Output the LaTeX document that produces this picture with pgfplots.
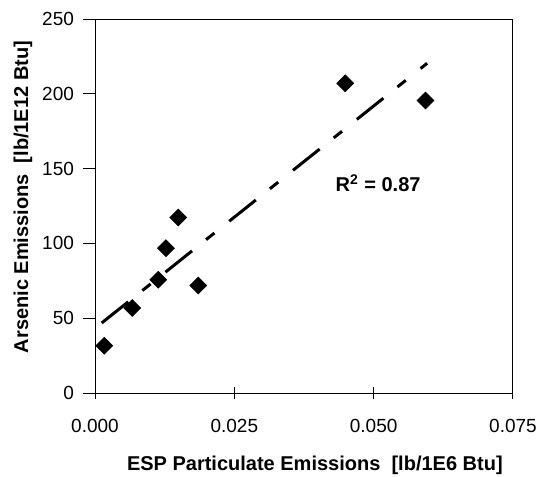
\documentclass[border=0pt]{standalone}
\usepackage{fontspec}
\setmainfont{Liberation Sans}
\usepackage{pgfplots}
\pgfplotsset{compat=1.18}
\begin{document}
\begin{tikzpicture}
\begin{axis}[
  at={(0,0)}, anchor=south west,
  scale only axis, width=209pt, height=187pt,
  xmin=0, xmax=0.075, ymin=0, ymax=250,
  xtick={0,0.025,0.05,0.075},
  xticklabels={0.000,0.025,0.050,0.075},
  ytick={0,50,100,150,200,250},
  scaled x ticks=false,
  xtick pos=left, ytick pos=left,
  tick align=center,
  major tick length=6pt,
  y tick style={xshift=-3pt},
  tick style={black, line width=0.5pt},
  axis line style={black, line width=0.5pt},
  tick label style={font=\fontsize{9.5}{11}\selectfont},
  /pgf/number format/assume math mode=true,
  yticklabel style={xshift=-4pt},
  xticklabel style={yshift=-6.5pt},
  xlabel={ESP Particulate Emissions~~[lb/1E6 Btu]},
  ylabel={Arsenic Emissions~~[lb/1E12 Btu]},
  label style={font=\bfseries\fontsize{10}{12}\selectfont},
  xlabel style={at={(axis description cs:0.526,0)}, anchor=center, yshift=-36pt},
  ylabel style={at={(axis description cs:0,0.524)}, anchor=center, yshift=36pt},
  clip=false,
]
\addplot[black, line width=1.5pt, dash pattern=on 17pt off 9pt on 5.3pt off 9.5pt]
  coordinates {(0.0012,46.8) (0.0596,220.4)};
\addplot[only marks, mark=square*, mark size=2.95pt, mark options={rotate=45, black, fill=black}]
  coordinates {
    (0.00167,31.6)
    (0.00669,56.8)
    (0.01135,75.7)
    (0.01273,96.8)
    (0.01494,117.3)
    (0.01853,71.9)
    (0.0449,207.0)
    (0.0593,195.5)
  };
\node[anchor=west, font=\bfseries\fontsize{10}{12}\selectfont, inner sep=0pt] at (axis cs:0.0431,140.4) {R\textsuperscript{2} = 0.87};
\end{axis}
\pgfresetboundingbox
\useasboundingbox (-47.5pt,-41.5pt) rectangle (222pt,196.5pt);
\end{tikzpicture}
\end{document}
